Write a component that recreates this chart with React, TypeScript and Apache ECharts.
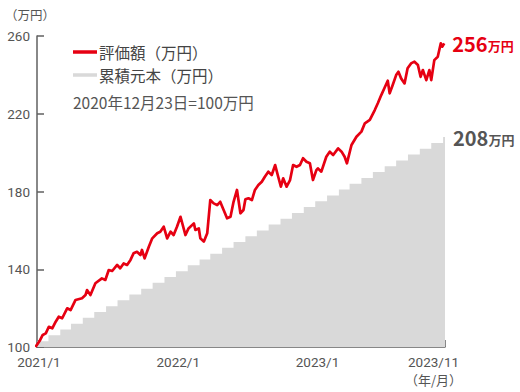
import React, { useEffect, useRef } from 'react';
import * as echarts from 'echarts';

// 評価額（万円）
const valuationDates = [
  '2020-12-23', '2021-01-04', '2021-01-11', '2021-01-19', '2021-01-27', '2021-02-05', '2021-02-14', '2021-02-22',
  '2021-03-03', '2021-03-16', '2021-03-25', '2021-04-07', '2021-04-24', '2021-05-03', '2021-05-07', '2021-05-16',
  '2021-05-29', '2021-06-15', '2021-06-24', '2021-07-03', '2021-07-12', '2021-07-25', '2021-08-02', '2021-08-11',
  '2021-08-20', '2021-08-29', '2021-09-06', '2021-09-15', '2021-09-24', '2021-09-28', '2021-10-05', '2021-10-16',
  '2021-10-25', '2021-11-07', '2021-11-15', '2021-11-24', '2021-12-03', '2021-12-12', '2021-12-20', '2021-12-29',
  '2022-01-07', '2022-01-20', '2022-01-28', '2022-02-11', '2022-02-15', '2022-02-24', '2022-02-28', '2022-03-09',
  '2022-03-18', '2022-03-26', '2022-04-04', '2022-04-13', '2022-04-21', '2022-04-30', '2022-05-09', '2022-05-18',
  '2022-05-26', '2022-06-04', '2022-06-13', '2022-06-21', '2022-06-26', '2022-07-04', '2022-07-13', '2022-07-21',
  '2022-07-30', '2022-08-08', '2022-08-16', '2022-08-25', '2022-09-03', '2022-09-12', '2022-09-20', '2022-09-27',
  '2022-10-03', '2022-10-12', '2022-10-21', '2022-10-29', '2022-11-07', '2022-11-16', '2022-11-24', '2022-12-03',
  '2022-12-12', '2022-12-20', '2022-12-29', '2023-01-02', '2023-01-11', '2023-01-24', '2023-02-02', '2023-02-11',
  '2023-02-24', '2023-03-05', '2023-03-13', '2023-03-19', '2023-03-31', '2023-04-13', '2023-04-26', '2023-05-05',
  '2023-05-18', '2023-05-31', '2023-06-08', '2023-06-17', '2023-06-26', '2023-07-04', '2023-07-09', '2023-07-17',
  '2023-07-26', '2023-08-01', '2023-08-08', '2023-08-17', '2023-08-25', '2023-09-03', '2023-09-12', '2023-09-21',
  '2023-09-28', '2023-10-04', '2023-10-13', '2023-10-21', '2023-10-26', '2023-11-03', '2023-11-12', '2023-11-16',
  '2023-11-20', '2023-11-24', '2023-11-29'
];
const valuationValues = [
  100, 103.5, 106.2, 107.0, 110.4, 109.6, 113.0, 115.6,
  114.8, 119.9, 119.0, 124.2, 125.1, 126.7, 129.3, 126.7,
  132.8, 135.3, 134.5, 139.6, 139.1, 142.2, 140.5, 143.0,
  142.2, 144.8, 148.2, 149.0, 147.3, 149.9, 145.6, 151.6,
  155.9, 158.5, 159.3, 161.9, 155.9, 159.3, 157.6, 162.0,
  167.0, 157.6, 161.0, 163.6, 160.2, 161.0, 155.9, 154.2,
  158.5, 175.6, 173.9, 173.0, 174.7, 170.5, 166.2, 167.0,
  174.7, 180.8, 168.8, 170.5, 176.0, 176.5, 175.6, 180.8,
  183.3, 185.0, 187.6, 190.2, 188.5, 193.6, 187.6, 182.5,
  186.8, 182.5, 185.9, 193.6, 192.7, 193.6, 197.1, 195.3,
  194.5, 185.9, 191.0, 191.9, 190.2, 197.9, 200.5, 198.8,
  202.2, 200.5, 197.9, 194.5, 203.9, 208.2, 210.8, 215.1,
  216.8, 221.9, 225.4, 229.6, 233.5, 237.0, 230.5, 234.8,
  239.9, 241.6, 238.2, 235.6, 243.4, 245.9, 246.8, 245.1,
  239.0, 242.5, 237.3, 242.5, 237.3, 247.6, 249.3, 252.8,
  256.2, 254.5, 256.2
];

// 累積元本（万円）
const principalDates = [
  '2020-12-23',
  '2021-01-26', '2021-02-26', '2021-03-26', '2021-04-26', '2021-05-26', '2021-06-26',
  '2021-07-26', '2021-08-26', '2021-09-26', '2021-10-26', '2021-11-26', '2021-12-26',
  '2022-01-26', '2022-02-26', '2022-03-26', '2022-04-26', '2022-05-26', '2022-06-26',
  '2022-07-26', '2022-08-26', '2022-09-26', '2022-10-26', '2022-11-26', '2022-12-26',
  '2023-01-26', '2023-02-26', '2023-03-26', '2023-04-26', '2023-05-26', '2023-06-26',
  '2023-07-26', '2023-08-26', '2023-09-26', '2023-10-26', '2023-11-26',
  '2023-12-01'
];
const principalValues = [
  103,
  106, 109, 112, 115, 118, 121,
  124, 127, 130, 133, 136, 139,
  142, 145, 148, 151, 154, 157,
  160, 163, 166, 169, 172, 175,
  178, 181, 184, 187, 190, 193,
  196, 199, 202, 205, 208,
  208
];

const xMinDate = '2020-12-27';
const xMaxDate = '2023-12-01';
const xTickDates = ['2021-01-01', '2022-01-01', '2023-01-01', '2023-11-01', '2023-12-01'];
const xLabelDates = ['2021-01-01', '2022-01-01', '2023-01-01', '2023-11-01'];
const xLabelTexts = ['2021/1', '2022/1', '2023/1', '2023/11'];
const yMin = 100;
const yMax = 260;
const yInterval = 40;

const FONT = '"Noto Sans CJK JP", "Noto Sans", sans-serif';
const NUM_FONT = 'Roboto, "Noto Sans", sans-serif';
const RED = '#e60012';
const GRAY_FILL = '#d9d9d9';
const TEXT = '#555555';
const AXIS = '#606060';

const ts = (s: string) => {
  const [y, m, d] = s.split('-').map(Number);
  return Date.UTC(y, m - 1, d);
};

export default function App() {
  const ref = useRef<HTMLDivElement>(null);

  useEffect(() => {
    if (!ref.current) return;
    const chart = echarts.init(ref.current, undefined, { renderer: 'svg' });
    const valuation = valuationDates.map((d, i) => [ts(d), valuationValues[i]]);
    const principal = principalDates.map((d, i) => [ts(d), principalValues[i]]);
    const labelTs = xLabelDates.map(ts);

    chart.setOption({
      animation: false,
      textStyle: { fontFamily: FONT },
      grid: { left: 37, right: 75, top: 36, bottom: 45, containLabel: false },
      xAxis: {
        type: 'value',
        min: ts(xMinDate),
        max: ts(xMaxDate),
        axisLine: { show: true, lineStyle: { color: AXIS, width: 1.5 } },
        axisTick: {
          show: true,
          inside: true,
          length: 7,
          lineStyle: { color: AXIS, width: 1.5 },
          customValues: xTickDates.map(ts),
        },
        axisLabel: {
          show: true,
          color: TEXT,
          fontSize: 13.5,
          lineHeight: 13,
          fontFamily: NUM_FONT,
          margin: 8,
          hideOverlap: false,
          showMinLabel: true,
          showMaxLabel: true,
          customValues: labelTs,
          formatter: (v: number) => {
            const i = labelTs.indexOf(v);
            return i >= 0 ? xLabelTexts[i] : '';
          },
        },
        splitLine: { show: false },
      },
      yAxis: {
        type: 'value',
        min: yMin,
        max: yMax,
        interval: yInterval,
        axisLine: { show: true, lineStyle: { color: AXIS, width: 1.5 } },
        axisTick: { show: true, inside: true, length: 7, lineStyle: { color: AXIS, width: 1.5 } },
        axisLabel: { color: TEXT, fontSize: 13.5, lineHeight: 12, fontFamily: NUM_FONT, margin: 7 },
        splitLine: { show: false },
      },
      graphic: [
        { type: 'text', left: 5, top: 8, style: { text: '（万円）', fontSize: 12.5, fill: TEXT, fontFamily: FONT } },
        { type: 'text', left: 405, top: 373, style: { text: '（年/月）', fontSize: 13, fill: TEXT, fontFamily: FONT } },
        { type: 'line', shape: { x1: 73, y1: 52, x2: 97, y2: 52 }, style: { stroke: RED, lineWidth: 3.5 } },
        { type: 'text', x: 99, y: 52, style: { text: '評価額（万円）', fontSize: 15.5, fill: '#444', fontFamily: FONT, verticalAlign: 'middle' } },
        { type: 'line', shape: { x1: 73, y1: 75, x2: 97, y2: 75 }, style: { stroke: GRAY_FILL, lineWidth: 3.5 } },
        { type: 'text', x: 99, y: 75, style: { text: '累積元本（万円）', fontSize: 15.5, fill: '#444', fontFamily: FONT, verticalAlign: 'middle' } },
        { type: 'text', x: 73, y: 102, style: { text: '2020年12月23日=100万円', fontSize: 15.5, fill: TEXT, fontFamily: FONT, verticalAlign: 'middle' } },
      ],
      series: [
        {
          name: '累積元本（万円）',
          type: 'line',
          step: 'end',
          data: principal,
          symbol: 'none',
          lineStyle: { width: 0, color: GRAY_FILL },
          areaStyle: { color: GRAY_FILL, opacity: 1, origin: 'start' },
          z: 1,
          endLabel: {
            show: true,
            distance: 8,
            formatter: (p: any) => `{v|${Math.round(p.value[1])}}{u|万円}`,
            rich: {
              v: { fontSize: 20, fontWeight: 'bold', color: '#555', fontFamily: FONT },
              u: { fontSize: 13, fontWeight: 'bold', color: '#555', fontFamily: FONT, padding: [4, 0, 0, 0] },
            },
          },
        },
        {
          name: '評価額（万円）',
          type: 'line',
          data: valuation,
          symbol: 'none',
          lineStyle: { width: 2.7, color: RED, join: 'round' },
          z: 3,
          endLabel: {
            show: true,
            distance: 8,
            formatter: (p: any) => `{v|${Math.round(p.value[1])}}{u|万円}`,
            rich: {
              v: { fontSize: 20, fontWeight: 'bold', color: RED, fontFamily: FONT },
              u: { fontSize: 13, fontWeight: 'bold', color: RED, fontFamily: FONT, padding: [4, 0, 0, 0] },
            },
          },
        },
      ],
    });
    return () => chart.dispose();
  }, []);

  return <div ref={ref} style={{ width: 520, height: 392, position: 'absolute', left: 0, top: 0 }} />;
}
